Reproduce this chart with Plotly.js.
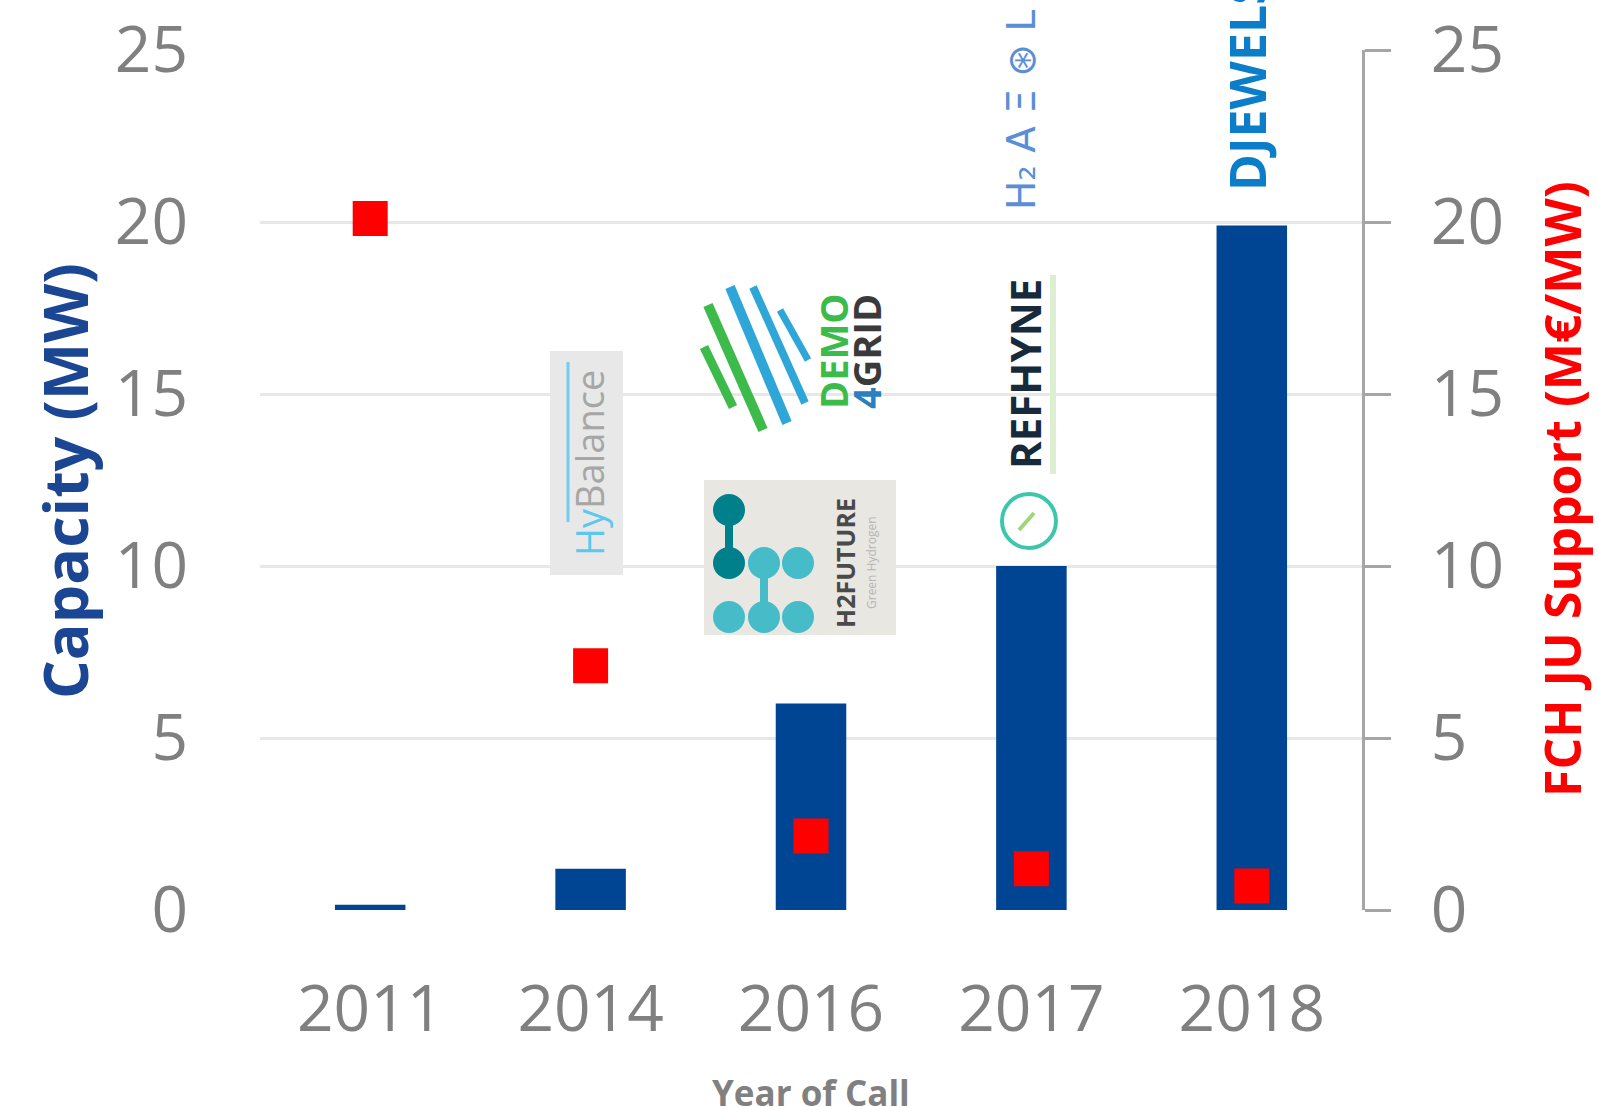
<!DOCTYPE html>
<html>
<head>
<meta charset="utf-8">
<script src="https://cdn.plot.ly/plotly-3.0.1.min.js"></script>
<style>html,body{margin:0;padding:0;background:#fff;}#chart{width:1597px;height:1107px;}</style>
</head>
<body>
<div id="chart"></div>
<script>
// ---- data ----
const categories = ['2011', '2014', '2016', '2017', '2018'];
const capacityMW = [0.15, 1.2, 6.0, 10.0, 19.9];
const supportMEurPerMW = [20.1, 7.1, 2.15, 1.2, 0.7];
const yTickVals = [0, 5, 10, 15, 20, 25];
const leftTitle = 'Capacity (MW)';
const rightTitle = 'FCH JU Support (M€/MW)';
const xTitle = 'Year of Call';

// ---- layout helpers (pixel -> paper) ----
const L = 260, R = 1362, T = 50, B = 910;
const px = X => (X - L) / (R - L);
const py = Y => (B - Y) / (B - T);

const gray = '#808080';
const font = 'Open Sans, Liberation Sans, sans-serif';

const bars = {
  type: 'bar', x: categories, y: capacityMW, width: 0.32,
  marker: {color: '#004494'}, hoverinfo: 'skip'
};
const pts = {
  type: 'scatter', mode: 'markers', x: categories, y: supportMEurPerMW, yaxis: 'y2',
  marker: {symbol: 'square', size: 35, color: '#ff0000'}, hoverinfo: 'skip'
};

function rect(X0, Y0, X1, Y1, fill) {
  return {type: 'rect', xref: 'paper', yref: 'paper', x0: px(X0), x1: px(X1), y0: py(Y1), y1: py(Y0),
    fillcolor: fill, line: {width: 0}, layer: 'above'};
}
function circ(cx, cy, r, fill, lineColor, lw) {
  return {type: 'circle', xref: 'paper', yref: 'paper', x0: px(cx - r), x1: px(cx + r), y0: py(cy + r), y1: py(cy - r),
    fillcolor: fill, line: {width: lw || 0, color: lineColor || fill}, layer: 'above'};
}
function seg(X0, Y0, X1, Y1, color, w) {
  return {type: 'line', xref: 'paper', yref: 'paper', x0: px(X0), x1: px(X1), y0: py(Y0), y1: py(Y1),
    line: {color: color, width: w}, layer: 'above'};
}
function ann(text, X, Y, size, color, extra) {
  return Object.assign({xref: 'paper', yref: 'paper', x: px(X), y: py(Y), text: text, showarrow: false,
    textangle: -90, xanchor: 'center', yanchor: 'middle', font: {family: font, size: size, color: color}}, extra || {});
}

const green = '#3dbb4a', blue = '#2ea6d8';
const shapes = [
  // HyBalance box
  rect(550, 351, 623, 575, '#e8e8e8'),
  seg(568, 522, 568, 362, '#6fcdf0', 3),
  // DEMO4GRID stripes
  seg(704, 347, 733, 407, green, 9),
  seg(708, 305, 763, 430, green, 10),
  seg(730, 287, 787, 423, blue, 10),
  seg(753, 287, 805, 403, blue, 8),
  seg(780, 310, 808, 360, blue, 7),
  // H2FUTURE box and dots
  rect(704, 480, 896, 635, '#e9e7e2'),
  seg(729, 510, 729, 563, '#00808a', 8),
  seg(764, 563, 764, 617, '#45bcc8', 8),
  circ(729, 510, 16, '#00808a'),
  circ(729, 563, 16, '#00808a'),
  circ(764, 563, 16, '#45bcc8'),
  circ(798, 563, 16, '#45bcc8'),
  circ(729, 617, 16, '#45bcc8'),
  circ(764, 617, 16, '#45bcc8'),
  circ(798, 617, 16, '#45bcc8'),
  // REFHYNE tagline + icon
  seg(1053, 275, 1053, 474, '#dcefd0', 6),
  circ(1029, 521, 27, 'rgba(0,0,0,0)', '#3ec6ad', 4),
  seg(1019, 530, 1034, 513, '#9fd67a', 4)
];

const annotations = [
  ann('<b>' + leftTitle + '</b>', 64, 481, 61, '#1b4693'),
  ann('<b>' + rightTitle + '</b>', 1562, 489, 50, '#ff0000'),
  ann('<b>' + xTitle + '</b>', 811, 1092, 35, gray, {textangle: 0}),
  ann('<span style="color:#5bc8f0">Hy</span>Balance', 589, 463, 38, '#a6a6a6'),
  ann('<b>DEMO</b>', 833, 352, 38, green),
  ann('<b><span style="color:#2a7fc1">4</span>GRID</b>', 866, 352, 38, '#3a3a3a'),
  ann('<b>H2FUTURE</b>', 845, 563, 25, '#4a4a4a'),
  ann('Green Hydrogen', 871, 563, 12, '#b5b5b5'),
  ann('<b>REFHYNE</b>', 1024, 374, 42, '#162a3c'),
  ann('H₂ A Ξ ⊛ L', 1021, 110, 39, '#5a8fd8', {font: {family: 'DejaVu Sans', size: 39, color: '#5a8fd8'}}),
  ann('<b>DJEWELS</b>', 1247, 193, 50, '#0b7dc9', {yanchor: 'bottom'})
];

const layout = {
  width: 1597, height: 1107,
  margin: {l: L, r: 1597 - R, t: T, b: 1107 - B, pad: 0},
  paper_bgcolor: '#fff', plot_bgcolor: '#fff',
  showlegend: false,
  font: {family: font, color: gray},
  xaxis: {
    type: 'category', categoryorder: 'array', categoryarray: categories,
    showline: false, showgrid: false, zeroline: false, ticks: '',
    tickfont: {family: font, size: 64, color: gray}, ticklabelstandoff: 56
  },
  yaxis: {
    range: [0, 25], tickvals: yTickVals, showline: false, zeroline: false,
    gridcolor: '#e8e8e8', gridwidth: 3, ticks: '',
    tickfont: {family: font, size: 64, color: gray}, ticklabelstandoff: 71
  },
  yaxis2: {
    range: [0, 25], tickvals: yTickVals, overlaying: 'y', side: 'right',
    showgrid: false, zeroline: false, showline: true, linecolor: '#a6a6a6', linewidth: 3,
    ticks: 'outside', ticklen: 26, tickwidth: 3, tickcolor: '#a6a6a6',
    tickfont: {family: font, size: 64, color: gray}, ticklabelstandoff: 27
  },
  shapes: shapes,
  annotations: annotations
};

Plotly.newPlot('chart', [bars, pts], layout, {staticPlot: true, displayModeBar: false});
</script>
</body>
</html>
